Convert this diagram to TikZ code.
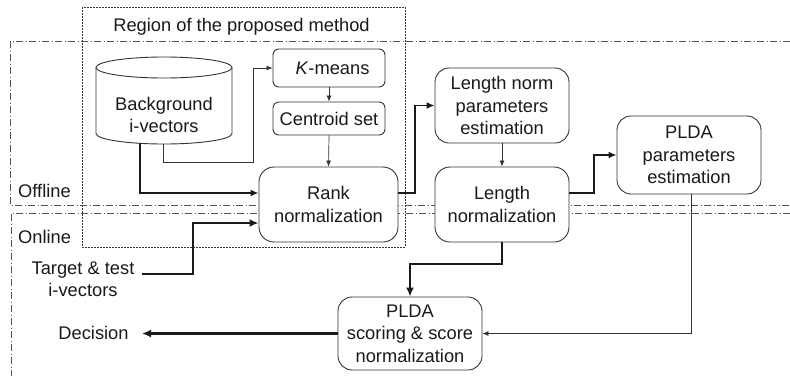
\documentclass[tikz,border=0pt]{standalone}
\usepackage{fontspec}
\setmainfont{Liberation Sans}
\usetikzlibrary{arrows.meta}

\definecolor{ink}{HTML}{1A1A1A}
\definecolor{edge}{HTML}{333333}
\definecolor{frame}{HTML}{555555}

\tikzset{
  box/.style={draw=edge, line width=0.9pt, rounded corners=#1, align=center,
    inner sep=0pt, fill=white, text=ink},
  box/.default=14pt,
  label/.style={inner sep=0pt, text=ink, align=center},
  phase/.style={draw=frame, line width=0.8pt,
    dash pattern=on 7pt off 2.5pt on 1pt off 2.5pt},
  regionframe/.style={draw=edge, line width=0.8pt, dash pattern=on 2pt off 1pt},
  thinflow/.style={draw=edge, line width=0.7pt,
    -{Latex[length=6pt,width=5pt]}},
  midflow/.style={draw=ink, line width=1.6pt,
    -{Latex[length=8pt,width=7pt]}},
  thickflow/.style={draw=ink, line width=2.6pt,
    -{Latex[length=9pt,width=8pt]}},
}

\begin{document}
\begin{tikzpicture}[x=1pt, y=-1pt, font=\fontsize{18.3}{22.5}\selectfont]
  \useasboundingbox (0,0) rectangle (790,376);
  \fill[white] (0,0) rectangle (790,376);

  % offline / online frames (open to the right and bottom)
  \draw[phase] (790,41) -- (10,41) -- (10,205) -- (790,205);
  \draw[phase] (790,213) -- (11,213) -- (11,376);
  \node[label, anchor=base west] (offl) at (18,197) {Offline};
  \node[label, anchor=base west] (onl) at (18,243) {Online};

  % region of the proposed method
  \draw[regionframe] (82,7) rectangle (405,247);
  \node[label, anchor=base] (regt) at (241.5,31.5) {Region of the proposed method};

  % background i-vector database (cylinder)
  \filldraw[draw=edge, fill=white, line width=0.9pt]
    (96,67.5) -- (96,133.5)
    arc[start angle=180, end angle=0, x radius=68, y radius=10.5]
    -- (232,67.5);
  \draw[edge, line width=0.9pt] (164,67.5) ellipse[x radius=68, y radius=10.5];
  \node[label] (bg) at (164,115) {Background\\i-vectors};
  \coordinate (bgA) at (140,143.3);
  \coordinate (bgB) at (163,144.4);

  % processing blocks
  \node[box=6pt, minimum width=112pt, minimum height=38pt] (km) at (329,68)
    {\hspace*{7pt}\textit{K}-means};
  \node[box=6pt, minimum width=112pt, minimum height=33pt] (cs) at (329,118.5)
    {Centroid set};
  \node[box=15pt, minimum width=139pt, minimum height=75pt] (rank) at (328.5,204.5)
    {Rank\\normalization};
  \node[box, minimum width=134pt, minimum height=75pt] (lnp) at (502,105.5)
    {Length norm\\parameters\\estimation};
  \node[box=15pt, minimum width=134pt, minimum height=75pt] (ln) at (502,204.5)
    {Length\\normalization};
  \node[box, minimum width=144pt, minimum height=78pt] (pp) at (689,155)
    {PLDA\\parameters\\estimation};
  \node[box, minimum width=144pt, minimum height=73pt] (ps) at (410,333.5)
    {PLDA\\scoring \& score\\normalization};

  % inputs and output
  \node[label] (tgt) at (83,279) {Target \& test\\i-vectors};
  \coordinate (tin) at (142,274);
  \node[label, anchor=base] (dec) at (93.5,339.5) {Decision};
  \coordinate (dout) at (142,333.5);

  % connectors
  \draw[thinflow] (bgB) -- (163,162) -- (253,162) |- (km.west);
  \draw[thinflow] (km.south) -- (cs.north);
  \draw[thinflow] (cs.south) -- (rank.north);
  \draw[midflow] (bgA) |- ([yshift=11.5pt]rank.west);
  \draw[thickflow] (tin) -- (193,274) |- ([yshift=-18.5pt]rank.west);
  \draw[midflow] ([yshift=11.5pt]rank.east) -- (415,193) |- (lnp.west);
  \draw[thinflow] (lnp.south) -- (ln.north);
  \draw[midflow] ([yshift=11.5pt]ln.east) -- (594,193) |- (pp.west);
  \draw[thinflow] ([xshift=2pt]pp.south) |- (ps.east);
  \draw[thickflow] (ln.south) -- (502,264) -| (ps.north);
  \draw[thickflow] (ps.west) -- (dout);
\end{tikzpicture}
\end{document}
